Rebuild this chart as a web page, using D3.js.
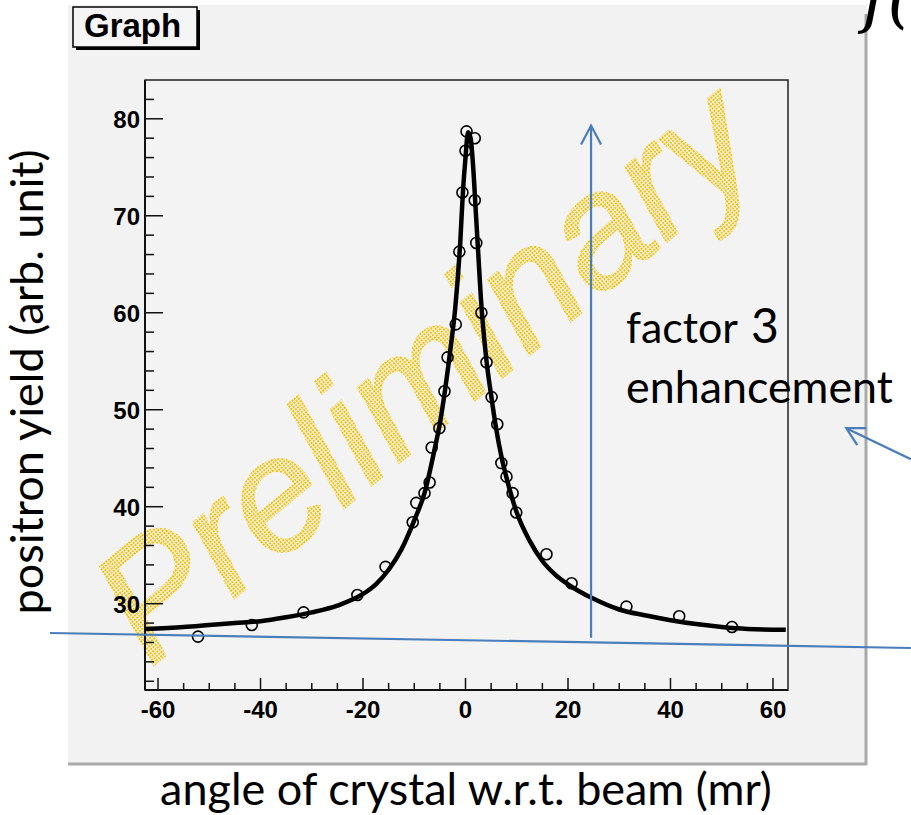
<!DOCTYPE html>
<html>
<head>
<meta charset="utf-8">
<script src="https://cdn.jsdelivr.net/npm/d3@7"></script>
<style>
  body { margin: 0; background: #fff; }
  svg { display: block; }
</style>
</head>
<body>
<svg id="chart"></svg>
<script>
// measured points (angle in mr, yield in arb. unit)
const angle = [-52.2, -41.7, -31.6, -21.1, -15.6, -10.3, -9.6, -8.0, -7.0, -6.6, -5.1, -4.1, -3.5, -1.9, -1.2, -0.6, 0.0, 0.2,
               1.8, 1.8, 2.1, 3.1, 4.1, 5.1, 6.2, 7.0, 8.0, 9.2, 9.9, 15.8, 20.7, 31.4, 41.7, 52.0]
const yieldVal = [26.6, 27.8, 29.1, 30.9, 33.8, 38.4, 40.4, 41.4, 42.5, 46.1, 48.1, 51.9, 55.4, 58.8, 66.3, 72.4, 76.7, 78.7,
                  78.0, 71.6, 67.2, 60.0, 54.9, 51.3, 48.5, 44.5, 43.1, 41.4, 39.4, 35.1, 32.1, 29.7, 28.7, 27.6]

// fitted curve
const fitAngle = [-62.5, -55, -50, -45, -40, -35, -30, -25, -20, -17.5, -15, -12.5, -10, -8, -6, -5, -4, -3, -2, -1, -0.5, 0,
                  0.5, 1, 1.5, 2, 2.5, 3, 4, 5, 6, 7, 8, 10, 12.5, 15, 17.5, 20, 25, 30, 35, 40, 45, 50, 55, 62.5]
const fitYield = [27.4, 27.6, 27.8, 28.0, 28.2, 28.6, 29.1, 29.8, 31.0, 32.0, 33.5, 35.6, 38.6, 41.4, 46.0, 48.6, 52.0, 56.0, 60.5, 67.5, 72.5, 76.0,
                  78.6, 78.0, 75.0, 70.5, 66.0, 61.5, 55.5, 51.5, 48.0, 45.2, 43.0, 39.4, 36.5, 34.4, 33.0, 32.0, 30.5, 29.4, 28.8, 28.3, 27.9, 27.6, 27.4, 27.3]

const xMajor = [-60, -40, -20, 0, 20, 40, 60]
const xMinor = d3.range(-60, 61, 5)
const yMajor = [30, 40, 50, 60, 70, 80]
const yMinor = d3.range(22, 84, 2)
const xDomain = [-62.54, 62.93]
const yDomain = [21.1, 84.0]

const W = 911, H = 815
const svg = d3.select('#chart').attr('width', W).attr('height', H)

const defs = svg.append('defs')
const pat = defs.append('pattern')
    .attr('id', 'dots')
    .attr('patternUnits', 'userSpaceOnUse')
    .attr('width', 3).attr('height', 3)
pat.append('rect').attr('width', 2).attr('height', 2).attr('fill', '#f2c30a')

// ROOT canvas
svg.append('rect').attr('x', 68).attr('y', 5).attr('width', 799).attr('height', 760).attr('fill', '#f2f2f2')
svg.append('line').attr('x1', 866).attr('x2', 866).attr('y1', 14).attr('y2', 765)
    .attr('stroke', '#a9a9a9').attr('stroke-width', 3)
svg.append('line').attr('x1', 68).attr('x2', 867).attr('y1', 764).attr('y2', 764)
    .attr('stroke', '#a9a9a9').attr('stroke-width', 3)

const m = { left: 145, right: 788, top: 80, bottom: 690 }
const x = d3.scaleLinear().domain(xDomain).range([m.left, m.right])
const y = d3.scaleLinear().domain(yDomain).range([m.bottom, m.top])

// frame
svg.append('rect').attr('x', m.left).attr('y', m.top)
    .attr('width', m.right - m.left).attr('height', m.bottom - m.top)
    .attr('fill', '#f3f3f3').attr('stroke', '#222').attr('stroke-width', 1.5)

// watermark
svg.append('text')
    .attr('transform', 'translate(150,668) rotate(-39.5)')
    .attr('font-family', 'Liberation Sans, Arial, sans-serif')
    .attr('font-style', 'italic')
    .attr('font-size', 160)
    .attr('fill', 'url(#dots)')
    .attr('stroke', 'url(#dots)')
    .attr('stroke-width', 2)
    .text('Preliminary')

// axes
const xAxis = svg.append('g').attr('transform', `translate(0,${m.bottom})`)
xAxis.selectAll('.minor').data(xMinor).enter().append('line')
    .attr('x1', d => x(d)).attr('x2', d => x(d))
    .attr('y1', 0).attr('y2', d => xMajor.includes(d) ? -12 : -7)
    .attr('stroke', '#111').attr('stroke-width', 1.5)
xAxis.append('line').attr('x1', m.left).attr('x2', m.right).attr('stroke', '#111').attr('stroke-width', 2)
xAxis.selectAll('.lab').data(xMajor).enter().append('text')
    .attr('x', d => x(d)).attr('y', 28)
    .attr('text-anchor', 'middle')
    .attr('font-family', 'Liberation Sans, Arial, sans-serif')
    .attr('font-weight', 'bold').attr('font-size', 24)
    .text(d => d)

const yAxis = svg.append('g').attr('transform', `translate(${m.left},0)`)
yAxis.selectAll('.tick').data(yMinor).enter().append('line')
    .attr('y1', d => y(d)).attr('y2', d => y(d))
    .attr('x1', 0).attr('x2', d => yMajor.includes(d) ? 18 : 9)
    .attr('stroke', '#111').attr('stroke-width', 1.5)
yAxis.append('line').attr('y1', m.top).attr('y2', m.bottom).attr('stroke', '#111').attr('stroke-width', 2)
yAxis.selectAll('.lab').data(yMajor).enter().append('text')
    .attr('x', -5).attr('y', d => y(d) + 9)
    .attr('text-anchor', 'end')
    .attr('font-family', 'Liberation Sans, Arial, sans-serif')
    .attr('font-weight', 'bold').attr('font-size', 24)
    .text(d => d)

// fit curve
const fit = d3.zip(fitAngle, fitYield)
svg.append('path')
    .datum(fit)
    .attr('d', d3.line().x(d => x(d[0])).y(d => y(d[1])).curve(d3.curveMonotoneX))
    .attr('fill', 'none').attr('stroke', '#000').attr('stroke-width', 4.5)
    .attr('stroke-linejoin', 'round')

// measured points
svg.selectAll('.pt').data(d3.zip(angle, yieldVal)).enter().append('circle')
    .attr('class', 'pt')
    .attr('cx', d => x(d[0])).attr('cy', d => y(d[1]))
    .attr('r', 5.5)
    .attr('fill', 'none').attr('stroke', '#000').attr('stroke-width', 1.6)

// title box
svg.append('rect').attr('x', 76).attr('y', 10).attr('width', 124).attr('height', 40).attr('fill', '#000')
svg.append('rect').attr('x', 73).attr('y', 7).attr('width', 124).attr('height', 40)
    .attr('fill', '#f5f5f5').attr('stroke', '#000').attr('stroke-width', 1.5)
svg.append('text').attr('x', 84).attr('y', 37)
    .attr('font-family', 'Liberation Sans, Arial, sans-serif')
    .attr('font-weight', 'bold').attr('font-size', 33)
    .text('Graph')

// slide annotations
const blue = '#4a7ebb'
const ann = svg.append('g').attr('stroke', blue).attr('stroke-width', 2.2).attr('fill', 'none')
ann.append('line')
    .attr('x1', x(-81.1)).attr('y1', y(26.98))
    .attr('x2', x(86.9)).attr('y2', y(25.43))
const ax = x(24.5), ay0 = y(26.5), ay1 = y(79.3)
ann.append('line').attr('x1', ax).attr('x2', ax).attr('y1', ay0).attr('y2', ay1)
ann.append('path').attr('d', `M${ax - 10},${ay1 + 19}L${ax},${ay1}L${ax + 10},${ay1 + 19}`)
const tx = x(74.3), ty = y(48.1)
ann.append('line').attr('x1', tx).attr('y1', ty).attr('x2', x(86.9)).attr('y2', y(44.9))
ann.append('path').attr('d', `M${tx + 20},${ty}L${tx},${ty}L${tx + 11},${ty + 17}`)

const fitText = (sel, w) => {
    const l = sel.node().getComputedTextLength()
    sel.attr('font-size', parseFloat(sel.attr('font-size')) * w / l)
}
const font = 'Lato, Calibri, sans-serif'

const f1 = svg.append('text').attr('x', 626).attr('y', 343)
    .attr('font-family', font).attr('font-size', 40).text('factor')
fitText(f1, 112)
svg.append('text').attr('x', 751).attr('y', 343)
    .attr('font-family', font).attr('font-size', 48).text('3')
const f2 = svg.append('text').attr('x', 626).attr('y', 403)
    .attr('font-family', font).attr('font-size', 40).text('enhancement')
fitText(f2, 267)

const xl = svg.append('text').attr('x', 466).attr('y', 805)
    .attr('text-anchor', 'middle')
    .attr('font-family', font).attr('font-size', 40)
    .text('angle of crystal w.r.t. beam (mr)')
fitText(xl, 612)

const yl = svg.append('text')
    .attr('transform', 'translate(43,382) rotate(-90)')
    .attr('text-anchor', 'middle')
    .attr('font-family', font).attr('font-size', 40)
    .text('positron yield (arb. unit)')
fitText(yl, 465)

// clipped formula glyph at top right
svg.append('text').attr('x', 862).attr('y', 20)
    .attr('font-family', 'DejaVu Serif, serif').attr('font-style', 'italic')
    .attr('font-size', 68)
    .text('f(')
</script>
</body>
</html>
